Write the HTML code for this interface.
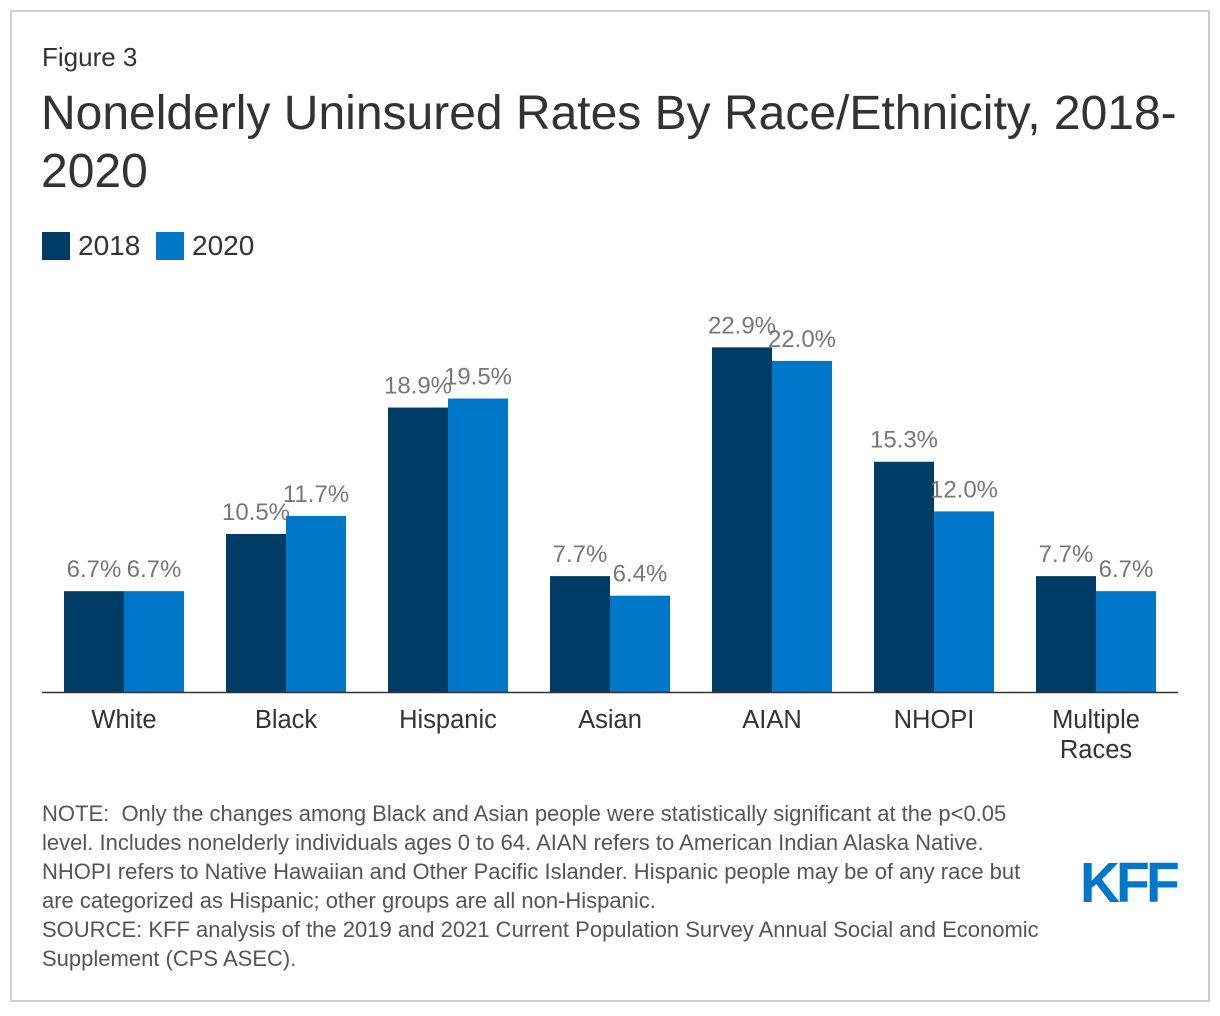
<!DOCTYPE html>
<html><head><meta charset="utf-8">
<style>
body{margin:0;width:1220px;height:1016px;background:#fff;font-family:"Liberation Sans",Arial,sans-serif;position:relative;overflow:hidden}
.frame{position:absolute;left:10px;top:10px;width:1196px;height:988px;border:2px solid #cfcfcf}
.abs{position:absolute;white-space:nowrap}
</style></head>
<body>
<div class="frame"></div>
<div class="abs" style="left:42px;top:42px;font-size:26px;color:#333">Figure 3</div>
<div class="abs" style="left:41px;top:85px;font-size:48px;line-height:58px;color:#333;white-space:normal;width:1160px">Nonelderly Uninsured Rates By Race/Ethnicity, 2018-<br>2020</div>
<div class="abs" style="left:42px;top:232px;font-size:28px;color:#333;line-height:28px"><span style="display:inline-block;width:28px;height:28px;background:#003d66;vertical-align:top;margin-right:8px"></span>2018</div>
<div class="abs" style="left:156px;top:232px;font-size:28px;color:#333;line-height:28px"><span style="display:inline-block;width:28px;height:28px;background:#0077c8;vertical-align:top;margin-right:8px"></span>2020</div>
<svg id="chart" class="abs" style="left:0;top:0" width="1220" height="780"></svg>
<div class="abs" style="left:42px;top:799px;font-size:22px;line-height:29px;color:#555">NOTE:&nbsp; Only the changes among Black and Asian people were statistically significant at the p&lt;0.05<br>level. Includes nonelderly individuals ages 0 to 64. AIAN refers to American Indian Alaska Native.<br>NHOPI refers to Native Hawaiian and Other Pacific Islander. Hispanic people may be of any race but<br>are categorized as Hispanic; other groups are all non-Hispanic.<br>SOURCE: KFF analysis of the 2019 and 2021 Current Population Survey Annual Social and Economic<br>Supplement (CPS ASEC).</div>
<div class="abs" style="left:1080px;top:850px;font-size:57px;font-weight:bold;color:#0077c8;letter-spacing:-4px;transform:scaleX(0.97);transform-origin:left">KFF</div>
<script>
const categories=["White","Black","Hispanic","Asian","AIAN","NHOPI","Multiple Races"];
const values2018=[6.7,10.5,18.9,7.7,22.9,15.3,7.7];
const values2020=[6.7,11.7,19.5,6.4,22.0,12.0,6.7];
const svg=document.getElementById('chart');
const NS='http://www.w3.org/2000/svg';
const base=692,scale=15.05,x0=124,step=162,bw=60;
const y=v=>base-v*scale;
function el(t,a){const e=document.createElementNS(NS,t);for(const k in a)e.setAttribute(k,a[k]);svg.appendChild(e);return e;}
categories.forEach((c,i)=>{
  const cx=x0+i*step;
  [[values2018,'#003d66',-bw,'2018'],[values2020,'#0077c8',0,'2020']].forEach(([arr,col,off,yr])=>{
    const r=el('rect',{x:cx+off,y:y(arr[i]),width:bw,height:arr[i]*scale,fill:col});
    
    
    const t=el('text',{x:cx+off+bw/2,y:y(arr[i])-14,'text-anchor':'middle','font-size':'24','fill':'#777','font-family':'Liberation Sans, Arial, sans-serif'});
    t.textContent=arr[i].toFixed(1)+'%';
    
    
  });
  const words=c==="Multiple Races"?["Multiple","Races"]:[c];
  words.forEach((w,j)=>{
    const t=el('text',{x:cx,y:728+j*30,'text-anchor':'middle','font-size':'25.5','fill':'#333','font-family':'Liberation Sans, Arial, sans-serif'});
    t.textContent=w;
    
    
  });
});
const ax=el('line',{x1:42,x2:1178,y1:base+0.5,y2:base+0.5,stroke:'#333','stroke-width':1.5});


</script>
</body></html>
